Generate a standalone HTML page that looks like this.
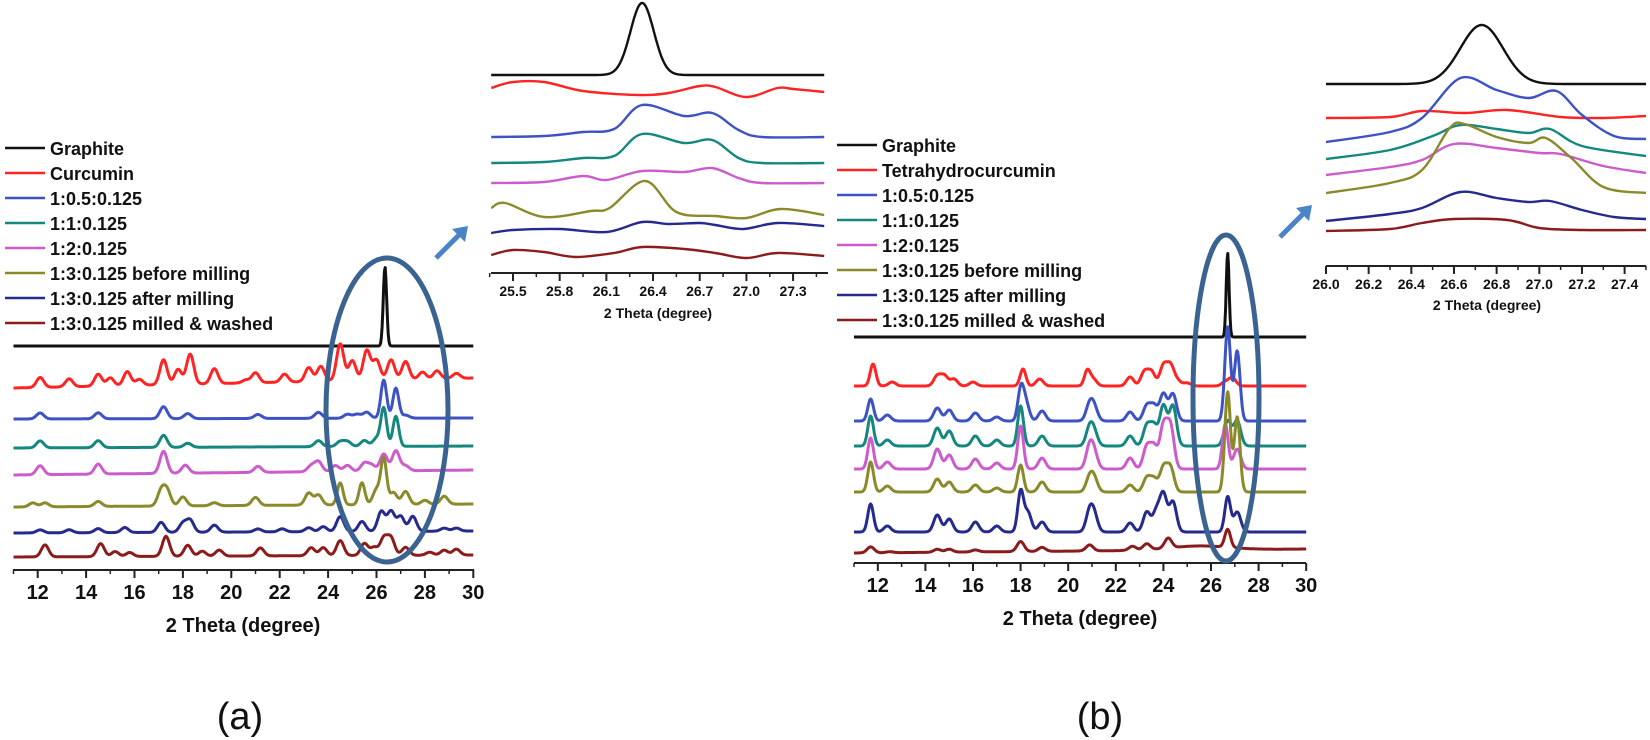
<!DOCTYPE html>
<html><head><meta charset="utf-8"><style>
body{margin:0;background:#fff;width:1650px;height:740px;overflow:hidden}
svg{display:block}
text{font-family:"Liberation Sans",Arial,sans-serif;fill:#111}
</style></head><body>
<svg id="s" width="1650" height="740" xmlns="http://www.w3.org/2000/svg"></svg>
<script>
const S=document.getElementById('s');let h='';
const C={k:'#111',r:'#ff2424',b:'#3d52c4',t:'#14887e',p:'#cc5ccc',o:'#8a8a2a',n:'#252a8c',m:'#8c1c1c'};
function gp(x0,x1,X,base,peaks,sig,col,w,baseEnd){
 let d='';const n=600;
 for(let i=0;i<=n;i++){const t=x0+(x1-x0)*i/n;let y=base+(baseEnd!==undefined?(baseEnd-base)*i/n:0);
  for(const [c,a,s] of peaks){let sg=s||sig;if(sg<0.13&&sig>0.1)sg=Math.max(sg,0.12);y-=a*Math.exp(-((t-c)**2)/(2*sg*sg));}
  d+=(i?'L':'M')+X(t).toFixed(1)+' '+y.toFixed(1);}
 h+=`<path d="${d}" fill="none" stroke="${col}" stroke-width="${w}" stroke-linejoin="round"/>`;}
function cr(pts,col,w){let d='M'+pts[0][0]+' '+pts[0][1];
 for(let i=0;i<pts.length-1;i++){const p0=pts[Math.max(i-1,0)],p1=pts[i],p2=pts[i+1],p3=pts[Math.min(i+2,pts.length-1)];
  d+=` C${p1[0]+(p2[0]-p0[0])/6} ${p1[1]+(p2[1]-p0[1])/6} ${p2[0]-(p3[0]-p1[0])/6} ${p2[1]-(p3[1]-p1[1])/6} ${p2[0]} ${p2[1]}`;}
 h+=`<path d="${d}" fill="none" stroke="${col}" stroke-width="${w}"/>`;}
function axis(X,t0,t1,y,x0,x1,maj,mnr,labs,fs,dec){
 h+=`<line x1="${x0}" y1="${y}" x2="${x1}" y2="${y}" stroke="#222" stroke-width="2"/>`;
 for(let t=t0;t<=t1+1e-6;t+=mnr){const x=X(t);h+=`<line x1="${x}" y1="${y}" x2="${x}" y2="${y+4}" stroke="#222" stroke-width="1.5"/>`;}
 for(const t of labs){const x=X(t);h+=`<line x1="${x}" y1="${y}" x2="${x}" y2="${y+8}" stroke="#222" stroke-width="2"/><text x="${x}" y="${y+fs+9}" font-size="${fs}" font-weight="bold" text-anchor="middle">${t.toFixed(dec)}</text>`;}
}
function legend(x,y,names){const cols=['k','r','b','t','p','o','n','m'];
 names.forEach((nm,i)=>{const yy=y+i*25;h+=`<line x1="${x}" y1="${yy}" x2="${x+40}" y2="${yy}" stroke="${C[cols[i]]}" stroke-width="2.5"/><text x="${x+45}" y="${yy+7}" font-size="18" font-weight="bold">${nm}</text>`;});}
const W=3,SG=0.15;
// ===== LEFT MAIN =====
const XL=t=>13.5+(t-11)*24.2;
gp(11,30,XL,346,[[26.35,79,0.07]],0.1,C.k,W);
gp(11,30,XL,388,[[12.1,10],[13.3,8],[14.5,12],[15,8],[15.7,14],[16.2,6],[17.2,25],[17.8,15],[18.3,30],[19.3,15],[20.6,3],[21,10],[22.2,8],[23.2,14],[23.7,15],[24.5,37],[25,20],[25.6,30],[26,20],[26.6,20],[27.2,18],[27.9,7],[28.5,8],[29.3,5]],SG,C.r,W,378);
gp(11,30,XL,419,[[12.1,6],[14.5,6],[17.2,12],[18.2,5],[21.1,4],[23.6,6],[24.8,4],[25.2,4],[25.6,6],[26.3,38,0.1],[26.8,30,0.1],[27.2,3]],SG,C.b,W,418);
gp(11,30,XL,448,[[12.1,7],[14.5,7],[17.2,12],[18.2,4],[23.6,6],[24.5,5],[24.8,5],[25.5,6],[26,8],[26.3,38,0.1],[26.8,30,0.1]],SG,C.t,W,446);
gp(11,30,XL,475,[[12.1,9],[14.5,10],[17.2,22],[18.1,8],[21.1,6],[23.3,6],[23.6,10],[24.3,6],[24.8,6],[25.5,8],[25.8,6],[26.3,17],[26.8,20],[27.2,5]],SG,C.p,W,470);
gp(11,30,XL,507,[[11.8,4],[12.3,4],[14.5,5],[17.1,15],[17.35,15],[18,9],[19.3,3],[21,8],[23.2,12],[23.6,10],[24.5,22,0.1],[25.4,22,0.1],[26,15],[26.3,45,0.08],[26.7,12],[27.2,13],[28,4],[28.8,8]],SG,C.o,W,504);
gp(11,30,XL,533,[[12.1,3],[13.3,3],[14.5,4],[15.6,5],[17.1,10],[18,9],[18.3,12],[19.3,7],[21.1,3],[22.1,3],[23.2,4],[23.8,5],[24.5,15],[25.4,10],[26.2,20],[26.6,20],[27,15],[27.5,15],[28.8,3],[29.3,3]],SG,C.n,W,531);
gp(11,30,XL,557,[[12.3,12],[14.6,13],[15.2,5],[15.8,4],[17.3,20],[18.2,11],[18.8,5],[19.5,6],[21.2,8],[23.3,8],[23.8,8],[24.5,15],[25.5,12],[25.9,8],[26.3,17],[26.6,17],[27.2,8],[28.2,3],[28.8,5],[29.3,6]],SG,C.m,W,555);
axis(XL,11,30,570,13,474,2,1,[12,14,16,18,20,22,24,26,28,30],20,0);
h+=`<text x="243" y="632" font-size="20" font-weight="bold" text-anchor="middle">2 Theta (degree)</text>`;
h+=`<text x="240" y="729" font-size="38" text-anchor="middle">(a)</text>`;
h+=`<ellipse cx="387" cy="410" rx="61" ry="152" fill="none" stroke="#3a6391" stroke-width="5"/>`;
legend(5,148,['Graphite','Curcumin','1:0.5:0.125','1:1:0.125','1:2:0.125','1:3:0.125 before milling','1:3:0.125 after milling','1:3:0.125 milled &amp; washed']);
// ===== RIGHT MAIN =====
const XR=t=>854+(t-11)*23.8;
gp(11,30,XR,337,[[26.7,84,0.06]],0.1,C.k,W);
gp(11,30,XR,386,[[11.8,22,0.1],[12.6,4],[14.5,10],[14.8,10],[15.2,7],[16,4],[18.1,17,0.1],[18.8,7],[20.8,15,0.1],[21.05,7],[22.6,9],[23.2,14],[23.5,14],[24,20],[24.3,20],[24.6,5],[25,3],[26.6,4],[26.9,8]],SG,C.r,W);
gp(11,30,XR,421,[[11.7,22,0.1],[12.4,6],[14.5,13],[15,11],[16.1,8],[17,4],[18,28,0.1],[18.2,20],[18.9,10],[20.9,16],[21.1,12],[22.6,9],[23.3,15],[23.6,15],[24,27],[24.4,27],[26.7,94,0.09],[27.1,70,0.08]],SG,C.b,W);
gp(11,30,XR,446,[[11.7,30,0.1],[12.4,6],[14.5,18],[15,15],[16.1,10],[17,6],[18,40,0.1],[18.9,10],[20.9,18],[21.1,12],[22.6,10],[23.3,20],[23.6,20],[24,40],[24.4,40],[26.7,25],[27.1,25]],SG,C.t,W);
gp(11,30,XR,469,[[11.7,31,0.1],[12.4,7],[14.5,20],[15,14],[16.1,10],[17,6],[18,43,0.1],[18.9,11],[20.9,22],[21.1,14],[22.6,11],[23.3,22],[23.6,22],[24,42],[24.3,42],[26.6,45,0.12],[27.1,20]],SG,C.p,W);
gp(11,30,XR,492,[[11.7,30,0.1],[12.4,6],[14.5,13],[15,10],[16.1,7],[17,4],[18,27,0.1],[18.9,10],[20.9,14],[21.1,12],[22.6,7],[23.3,14],[23.6,13],[24,24],[24.3,24],[26.7,100,0.09],[27.1,75,0.08]],SG,C.o,W);
gp(11,30,XR,532,[[11.7,28,0.1],[12.4,6],[14.5,17],[15,13],[16.1,10],[17,6],[18,40,0.1],[18.3,20],[18.9,10],[20.9,20],[21.1,15],[22.6,9],[23.3,20],[23.7,20],[24,37],[24.4,30],[26.7,35,0.1],[27.1,20]],SG,C.n,W);
gp(11,30,XR,553,[[11.7,6],[12.5,1],[14.5,3],[15,3],[16.1,2],[18,10],[18.9,4],[20.9,6],[22.7,4],[23.3,6],[24.2,10],[25.5,4,1.2],[26.7,18,0.12]],SG,C.m,W,549);
axis(XR,11,30,563,854,1306,2,1,[12,14,16,18,20,22,24,26,28,30],20,0);
h+=`<text x="1080" y="625" font-size="20" font-weight="bold" text-anchor="middle">2 Theta (degree)</text>`;
h+=`<text x="1100" y="729" font-size="38" text-anchor="middle">(b)</text>`;
h+=`<ellipse cx="1226" cy="398" rx="33" ry="163" fill="none" stroke="#3a6391" stroke-width="5"/>`;
legend(837,145,['Graphite','Tetrahydrocurcumin','1:0.5:0.125','1:1:0.125','1:2:0.125','1:3:0.125 before milling','1:3:0.125 after milling','1:3:0.125 milled &amp; washed']);
// ===== INSET A =====
const XA=t=>513+(t-25.5)*155.6;
gp(25.36,27.5,XA,75,[[26.33,72,0.075]],0.1,C.k,2.4);
const ia=(pts,col)=>cr(pts.map(([t,y])=>[+XA(t).toFixed(1),y]),col,2.4);
ia([[25.36,88],[25.5,82],[25.7,82],[25.95,91],[26.3,95],[26.5,93],[26.7,86],[26.8,87],[27,97],[27.2,88],[27.3,89],[27.5,92]],C.r);
ia([[25.36,137],[25.7,136],[25.95,132],[26.15,129],[26.33,105],[26.6,116],[26.78,113],[26.95,130],[27.1,137],[27.5,137]],C.b);
ia([[25.36,163],[25.7,162],[25.95,158],[26.15,156],[26.33,134],[26.6,143],[26.78,140],[26.95,158],[27.1,163],[27.5,163]],C.t);
ia([[25.36,183],[25.7,182],[25.95,176],[26.1,180],[26.33,171],[26.6,172],[26.78,168],[26.95,178],[27.1,183],[27.5,183]],C.p);
ia([[25.36,208],[25.45,203],[25.7,217],[26.0,211],[26.12,208],[26.35,181],[26.55,212],[26.8,216],[27.0,218],[27.22,209],[27.5,215]],C.o);
ia([[25.36,233],[25.5,230],[25.8,229],[26.1,232],[26.33,222],[26.5,224],[26.7,223],[26.8,225],[26.98,229],[27.2,223],[27.5,226]],C.n);
ia([[25.36,255],[25.5,250],[25.7,252],[25.9,257],[26.15,253],[26.33,247],[26.6,249],[26.8,253],[27.0,258],[27.2,253],[27.5,256]],C.m);
axis(XA,25.35,27.5,273,491,828,0.3,0.15,[25.5,25.8,26.1,26.4,26.7,27.0,27.3],14,1);
h+=`<text x="658" y="318" font-size="14" font-weight="bold" text-anchor="middle">2 Theta (degree)</text>`;
// ===== INSET B =====
const XB=t=>1326+(t-26)*213.3;
gp(26,27.5,XB,84,[[26.73,59,0.1]],0.1,C.k,2.4);
const ib=(pts,col)=>cr(pts.map(([t,y])=>[+XB(t).toFixed(1),y]),col,2.4);
ib([[26,118],[26.3,117],[26.45,111],[26.65,113],[26.85,110],[27.1,117],[27.3,118],[27.5,116]],C.r);
ib([[26,142],[26.3,132],[26.45,118],[26.63,78],[26.8,90],[26.95,98],[27.08,91],[27.2,115],[27.35,136],[27.5,139]],C.b);
ib([[26,159],[26.3,150],[26.5,136],[26.63,125],[26.8,129],[26.95,133],[27.05,129],[27.2,146],[27.5,156]],C.t);
ib([[26,175],[26.3,167],[26.45,160],[26.6,144],[26.8,148],[27,153],[27.1,154],[27.3,166],[27.5,173]],C.p);
ib([[26,193],[26.3,183],[26.45,170],[26.58,128],[26.65,124],[26.8,137],[26.95,143],[27.03,138],[27.15,158],[27.3,187],[27.5,193]],C.o);
ib([[26,221],[26.3,214],[26.45,208],[26.63,192],[26.8,198],[26.95,202],[27.05,201],[27.2,210],[27.35,217],[27.5,219]],C.n);
ib([[26,231],[26.3,229],[26.45,223],[26.6,219],[26.85,220],[27,228],[27.2,230],[27.5,230]],C.m);
axis(XB,26,27.5,266,1326,1646,0.2,0.1,[26.0,26.2,26.4,26.6,26.8,27.0,27.2,27.4],14,1);
h+=`<text x="1487" y="310" font-size="14" font-weight="bold" text-anchor="middle">2 Theta (degree)</text>`;
function arrow(x1,y1,x2,y2){h+=`<line x1="${x1}" y1="${y1}" x2="${x2-6}" y2="${y2+6}" stroke="#4a84c6" stroke-width="5"/>`;
 h+=`<polygon points="${x2},${y2} ${x2-16},${y2+3} ${x2-3},${y2+16}" fill="#4a84c6"/>`;}
arrow(436,258,468,226);arrow(1280,237,1312,205);
S.innerHTML=h;
</script>
</body></html>
